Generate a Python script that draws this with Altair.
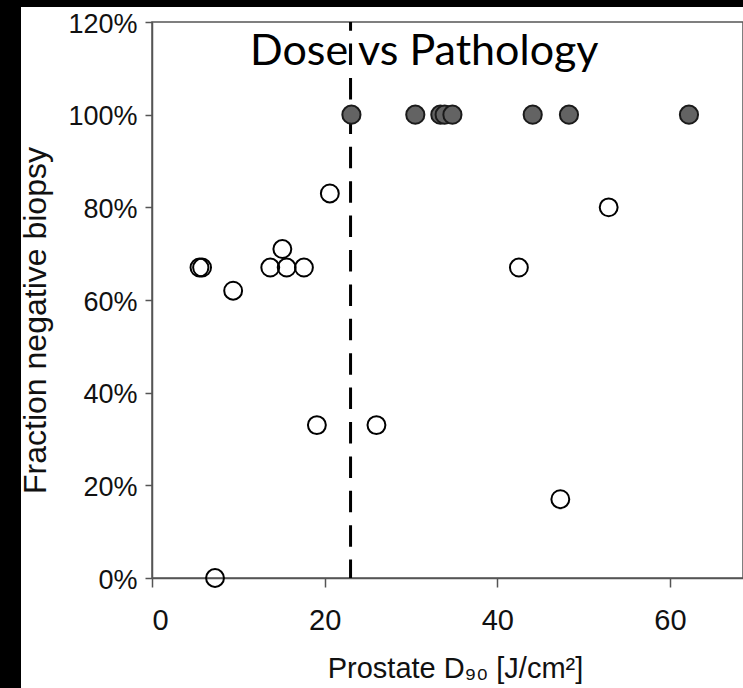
import altair as alt
import pandas as pd

# ---- data ----
open_dose = [5.5, 5.8, 9.4, 13.7, 15.1, 15.6, 17.6, 20.6, 19.1, 26.0, 7.3, 42.5, 52.9, 47.3]
open_frac = [67, 67, 62, 67, 71, 67, 67, 83, 33, 33, 0, 67, 80, 17]
filled_dose = [23.1, 30.5, 33.4, 33.9, 34.8, 44.1, 48.3, 62.2]
filled_frac = [100, 100, 100, 100, 100, 100, 100, 100]
threshold_dose = [23.0]
x_tick_values = [0, 20, 40, 60]
y_tick_values = [0, 20, 40, 60, 80, 100, 120]
title_text = ["Dose vs Pathology"]

open_df = pd.DataFrame({"dose": open_dose, "frac": open_frac})
filled_df = pd.DataFrame({"dose": filled_dose, "frac": filled_frac})
thr_df = pd.DataFrame({"dose": threshold_dose})
title_df = pd.DataFrame({"t": title_text})

W, H = 591, 556
PAD_L, PAD_T, PAD_B = 152, 22, 110

x_scale = alt.Scale(domain=[0, 68.46], nice=False, zero=False)
y_scale = alt.Scale(domain=[0, 120], nice=False)

axis_common = dict(
    grid=False,
    domainColor="#555555",
    domainWidth=1.5,
    tickColor="#555555",
    tickWidth=1.5,
    labelColor="#111111",
    labelFont="Liberation Sans",
    titleFont="Liberation Sans",
    titleColor="#111111",
    titleFontWeight="normal",
)

x_axis = alt.Axis(
    values=x_tick_values,
    title="Prostate D₉₀ [J/cm²]",
    tickSize=9,
    labelFontSize=29,
    labelBaseline="alphabetic",
    labelPadding=42,
    titleFontSize=29,
    titleBaseline="alphabetic",
    titleX=303,
    titleY=99,
    **axis_common,
)

y_axis = alt.Axis(
    values=y_tick_values,
    labelExpr="datum.value + '%'",
    title="Fraction negative biopsy",
    tickSize=7,
    labelFontSize=27,
    labelPadding=8,
    labelBaseline="alphabetic",
    labelOffset=10,
    titleFontSize=32,
    titleBaseline="alphabetic",
    titleAngle=270,
    titleX=-107,
    titleY=298,
    **axis_common,
)

# frame decoration of the screenshot (black bands on left and top)
one = alt.Data(values=[{"a": 1}])
band_left = alt.Chart(one).mark_rect(color="black").encode(
    x=alt.value(-PAD_L), x2=alt.value(-PAD_L + 21),
    y=alt.value(-PAD_T), y2=alt.value(H + PAD_B),
)
band_top = alt.Chart(one).mark_rect(color="black").encode(
    x=alt.value(-PAD_L), x2=alt.value(W + 5),
    y=alt.value(-PAD_T), y2=alt.value(-PAD_T + 7),
)

rule = alt.Chart(thr_df).mark_rule(
    color="black", strokeWidth=3, strokeDash=[21.5, 12.9], strokeDashOffset=12.8
).encode(x=alt.X("dose:Q", scale=x_scale, axis=x_axis))

open_pts = alt.Chart(open_df).mark_point(
    shape="circle", filled=False, size=320, stroke="black", strokeWidth=2, opacity=1
).encode(
    x=alt.X("dose:Q", scale=x_scale, axis=x_axis),
    y=alt.Y("frac:Q", scale=y_scale, axis=y_axis),
)

filled_pts = alt.Chart(filled_df).mark_point(
    shape="circle", filled=True, size=330, fill="#636363", stroke="#1a1a1a",
    strokeWidth=2, opacity=1
).encode(
    x=alt.X("dose:Q", scale=x_scale),
    y=alt.Y("frac:Q", scale=y_scale),
)

title_mark = alt.Chart(title_df).mark_text(
    font="Lato", fontSize=43, color="black", align="left", baseline="alphabetic"
).encode(text="t:N", x=alt.value(98), y=alt.value(43))

chart = alt.layer(band_left, band_top, rule, open_pts, filled_pts, title_mark).properties(
    width=W,
    height=H,
    autosize=alt.AutoSizeParams(type="none"),
    padding={"left": PAD_L, "top": PAD_T, "right": 0, "bottom": PAD_B},
).configure(background="white").configure_view(
    stroke="#555555", strokeWidth=1.5
)

chart.save("out.html", embed_options={"renderer": "svg", "actions": False})
